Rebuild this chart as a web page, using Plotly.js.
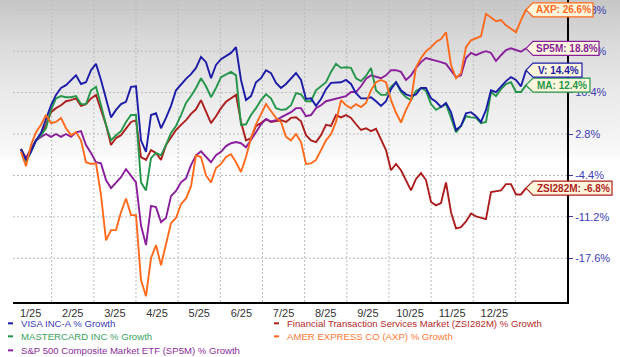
<!DOCTYPE html>
<html><head><meta charset="utf-8">
<script src="https://cdn.plot.ly/plotly-3.0.1.min.js"></script>
<style>
html,body{margin:0;padding:0;background:#fff;}
#chart{width:620px;height:357px;background:linear-gradient(to bottom,#c6c6c6 0px,#d9d9d9 40px,#e9e9e9 90px,#f4f4f4 135px,#fafafa 156px,#ffffff 160px,#ffffff 100%);}
</style></head><body><div id="chart"></div>
<script>
// month tick labels
const monthLabels = ['1/25','2/25','3/25','4/25','5/25','6/25','7/25','8/25','9/25','10/25','11/25','12/25'];

// % growth series (sampled every ~2.5 trading days)
const visa = [0.2,-1.7,-0.3,1.7,3.0,5.6,7.8,9.6,10.8,11.3,
 12.2,13.0,11.5,11.8,13.9,15.0,12.2,8.7,5.7,7.0,
 8.0,8.4,11.0,11.1,1.7,-0.3,6.1,6.4,3.8,5.6,
 7.7,10.4,11.5,12.4,13.2,14.3,16.2,15.3,12.5,14.8,
 15.8,16.4,16.9,17.9,12.2,8.7,9.4,11.8,12.5,13.9,
 13.4,11.7,10.8,11.5,12.5,13.4,12.2,8.9,9.0,7.7,
 8.9,10.6,11.7,11.7,11.8,12.2,11.5,9.9,9.0,9.0,
 9.2,8.5,7.7,8.5,10.6,11.8,10.4,9.7,9.4,9.7,
 10.8,10.8,9.0,8.4,7.5,8.2,6.6,3.5,4.2,6.4,
 6.6,5.9,4.9,7.0,10.4,10.1,11.1,12.0,12.7,12.2,
 11.1,13.9];
const mastercard = [0.2,-2.1,-0.3,1.7,2.6,3.8,7.0,9.0,9.4,9.2,
 9.2,9.4,8.0,8.0,10.4,11.0,7.8,4.4,1.7,2.6,
 3.3,4.9,6.1,6.1,-5.6,-7.0,-1.4,-0.5,-0.9,0.9,
 3.0,4.2,6.1,8.2,9.4,10.8,12.5,11.1,9.2,10.8,
 12.7,13.2,13.6,13.0,4.4,4.5,6.1,7.3,8.7,9.7,
 9.0,7.3,7.0,7.1,7.8,9.9,9.7,8.5,8.5,10.4,
 11.1,11.8,13.6,15.0,14.3,14.4,14.3,12.5,12.0,12.9,
 14.3,10.4,9.6,9.6,11.0,11.8,10.1,9.2,8.7,10.3,
 10.8,10.3,8.0,7.0,7.5,8.0,5.6,3.1,4.2,5.9,
 5.7,5.6,4.7,4.9,10.1,9.4,10.6,11.5,11.8,10.1,
 10.1,11.3];
const ftsMarket = [0.2,-1.4,0.0,1.7,2.6,4.4,6.6,7.3,7.8,8.5,
 8.7,9.0,7.7,8.0,9.0,9.6,7.0,4.4,0.9,2.1,
 2.6,3.8,4.9,5.2,-1.2,-1.7,0.0,-0.5,-1.7,0.9,
 2.1,3.5,4.4,5.2,6.3,7.1,8.7,6.6,4.7,5.9,
 7.3,8.4,9.0,9.6,4.9,1.7,2.1,4.2,4.7,5.4,
 4.9,5.0,5.2,4.9,5.6,5.7,5.0,2.6,1.7,1.4,
 2.6,4.4,4.2,6.1,5.7,6.1,5.6,4.5,3.5,3.8,
 3.3,3.7,1.7,0.0,-3.5,-2.4,-3.5,-5.2,-7.0,-5.0,
 -4.0,-5.2,-9.0,-9.6,-9.2,-5.6,-10.8,-13.6,-13.4,-12.4,
 -11.0,-11.5,-11.7,-12.0,-7.3,-7.1,-7.0,-5.9,-5.9,-7.7,
 -7.7,-6.6];
const sp5m = [0.0,-1.4,0.3,1.7,2.3,2.8,2.3,2.8,2.3,2.8,
 2.3,3.1,3.3,0.9,-0.5,-2.1,-2.3,-5.2,-6.6,-5.6,
 -4.7,-3.3,-4.5,-5.6,-13.1,-16.5,-9.7,-9.9,-12.5,-11.8,
 -8.0,-7.1,-5.6,-4.9,-2.6,-0.9,-0.2,-1.2,-2.1,-0.9,
 -0.3,0.7,1.2,1.4,1.2,0.5,1.7,3.1,4.5,5.4,
 5.0,5.2,5.7,6.1,6.6,7.3,7.3,5.9,6.1,7.3,
 7.8,8.5,8.7,9.0,9.2,9.4,10.1,10.1,11.1,12.4,
 13.0,12.7,12.5,13.0,13.9,13.9,13.6,12.2,13.0,14.3,
 15.3,16.0,15.8,15.5,15.3,15.0,13.9,12.7,13.0,16.0,
 16.9,16.5,16.9,17.2,16.9,15.5,16.5,17.4,17.7,17.4,
 17.1,17.7];
const axp = [-0.3,-2.8,0.9,3.1,4.4,6.1,4.7,4.9,5.6,3.8,
 2.6,3.1,1.7,-2.1,-2.4,-2.3,-7.8,-15.7,-13.9,-13.9,
 -10.8,-8.4,-11.3,-11.3,-22.6,-25.4,-18.8,-16.5,-20.0,-16.5,
 -12.7,-11.8,-9.4,-8.4,-6.3,-0.9,-1.2,-4.4,-5.6,-3.1,
 -2.4,-1.2,-0.7,-2.1,-3.8,-1.2,2.1,4.5,6.4,8.0,
 6.8,5.6,4.9,2.3,1.7,2.8,1.4,-2.4,-2.3,-1.7,
 0.0,1.7,2.8,4.9,8.7,7.8,7.3,8.0,7.5,8.2,
 10.4,11.8,12.2,11.8,8.7,6.5,4.8,7.0,8.7,14.4,
 16.0,17.2,17.9,18.8,19.3,20.5,14.8,12.5,13.4,17.9,
 19.1,19.5,19.8,23.7,23.0,22.4,22.6,21.7,21.1,20.5,
 22.6,24.4];

const yTickVals = [24.4, 17.2, 10.0, 2.8, -4.4, -11.6, -18.8];
const yTickText = ['24.8%','17.6%','10.4%','2.8%','-4.4%','-11.2%','-17.6%'];

const series = [
  {name:'Financial Transaction Services Market (ZSI282M) % Growth', data:ftsMarket, color:'#ad1f1f', text:'#b32a2a', label:'ZSI282M: -6.8%', w:86, col:1, row:0},
  {name:'S&amp;P 500 Composite Market ETF (SP5M) % Growth', data:sp5m, color:'#8a1f9c', text:'#8d2d9d', label:'SP5M: 18.8%', w:73, col:0, row:2},
  {name:'MASTERCARD INC % Growth', data:mastercard, color:'#24964a', text:'#3aa45e', label:'MA: 12.4%', w:64, col:0, row:1},
  {name:'VISA INC-A % Growth', data:visa, color:'#1c1ca8', text:'#3a3ab4', label:'V: 14.4%', w:56, col:0, row:0},
  {name:'AMER EXPRESS CO (AXP) % Growth', data:axp, color:'#ff6a1c', text:'#ff7a35', label:'AXP: 26.6%', w:67, col:1, row:1}
];

const XR = [-1.6, 109.2], YR = [-26.4, 26.1];
const MONTH0 = -2.3, MONTH = 8.432;

const traces = series.map(s => ({
  type:'scatter', mode:'lines', name:s.name,
  x: s.data.map((_, i) => i), y: s.data,
  line:{color:s.color, width:1.9}, hoverinfo:'skip'
}));

const px = (v) => (v - XR[0]) / (XR[1] - XR[0]);
const py = (v) => (v - YR[0]) / (YR[1] - YR[0]);

const shapes = [], annotations = [];
const gridLine = {color:'#bcbcbc', width:1, dash:'2px,2px'};

// dotted grid (month boundaries and value ticks), drawn under the lines
monthLabels.forEach((_, k) => {
  shapes.push({type:'line', layer:'below', xref:'x', yref:'paper',
    x0:MONTH0 + MONTH * (k + 1), x1:MONTH0 + MONTH * (k + 1), y0:0, y1:1, line:gridLine});
});
yTickVals.forEach(v => {
  shapes.push({type:'line', layer:'below', xref:'paper', yref:'y',
    x0:0, x1:1, y0:v, y1:v, line:gridLine});
});

const legendX = [0.0108, 0.491], legendY = [-0.0706, -0.1137, -0.1601];
series.forEach(s => {
  const last = s.data.length - 1;
  const ax = px(last), ay = py(s.data[last]);
  shapes.push({type:'path', xref:'paper', yref:'paper', xsizemode:'pixel', ysizemode:'pixel',
    xanchor:ax, yanchor:ay, path:`M0,0L7,7L${s.w},7L${s.w},-7L7,-7Z`,
    fillcolor:'#fdf6dc', line:{color:s.color, width:1.2}, layer:'above'});
  annotations.push({xref:'paper', yref:'paper', x:ax, y:ay, xanchor:'center', yanchor:'middle',
    xshift:(s.w + 7) / 2 + 0.5, showarrow:false, text:s.label,
    font:{family:'Liberation Sans, Arial', size:10, color:s.color, weight:700}});
  // legend entries
  const lx = legendX[s.col], ly = legendY[s.row];
  shapes.push({type:'line', xref:'paper', yref:'paper', xsizemode:'pixel', xanchor:lx,
    x0:-11, x1:-6, y0:ly, y1:ly, line:{color:s.color, width:2}});
  annotations.push({xref:'paper', yref:'paper', x:lx, y:ly, xanchor:'left', yanchor:'middle',
    showarrow:false, text:s.name, font:{family:'Liberation Sans, Arial', size:9.6, color:s.text}});
});

const layout = {
  width:620, height:357,
  margin:{l:13, r:53, t:0, b:55},
  paper_bgcolor:'rgba(0,0,0,0)', plot_bgcolor:'rgba(0,0,0,0)',
  showlegend:false,
  xaxis:{
    range:XR, tickmode:'array',
    tickvals: monthLabels.map((_, k) => MONTH0 + MONTH * (k + 0.5)),
    ticktext: monthLabels,
    showgrid:false, zeroline:false, showline:true, linecolor:'#000', linewidth:2, ticks:'',
    tickfont:{family:'Liberation Sans, Arial', size:11, color:'#333'}
  },
  yaxis:{
    side:'right', range:YR, tickmode:'array', tickvals:yTickVals, ticktext:yTickText,
    showgrid:false, zeroline:false, showline:true, linecolor:'#000', linewidth:2,
    ticks:'outside', ticklen:4, tickwidth:1, tickcolor:'#3c3cb4',
    tickfont:{family:'Liberation Sans, Arial', size:11, color:'#3c3cb4'}
  },
  shapes, annotations
};

Plotly.newPlot('chart', traces, layout, {staticPlot:true, displayModeBar:false});
</script></body></html>
